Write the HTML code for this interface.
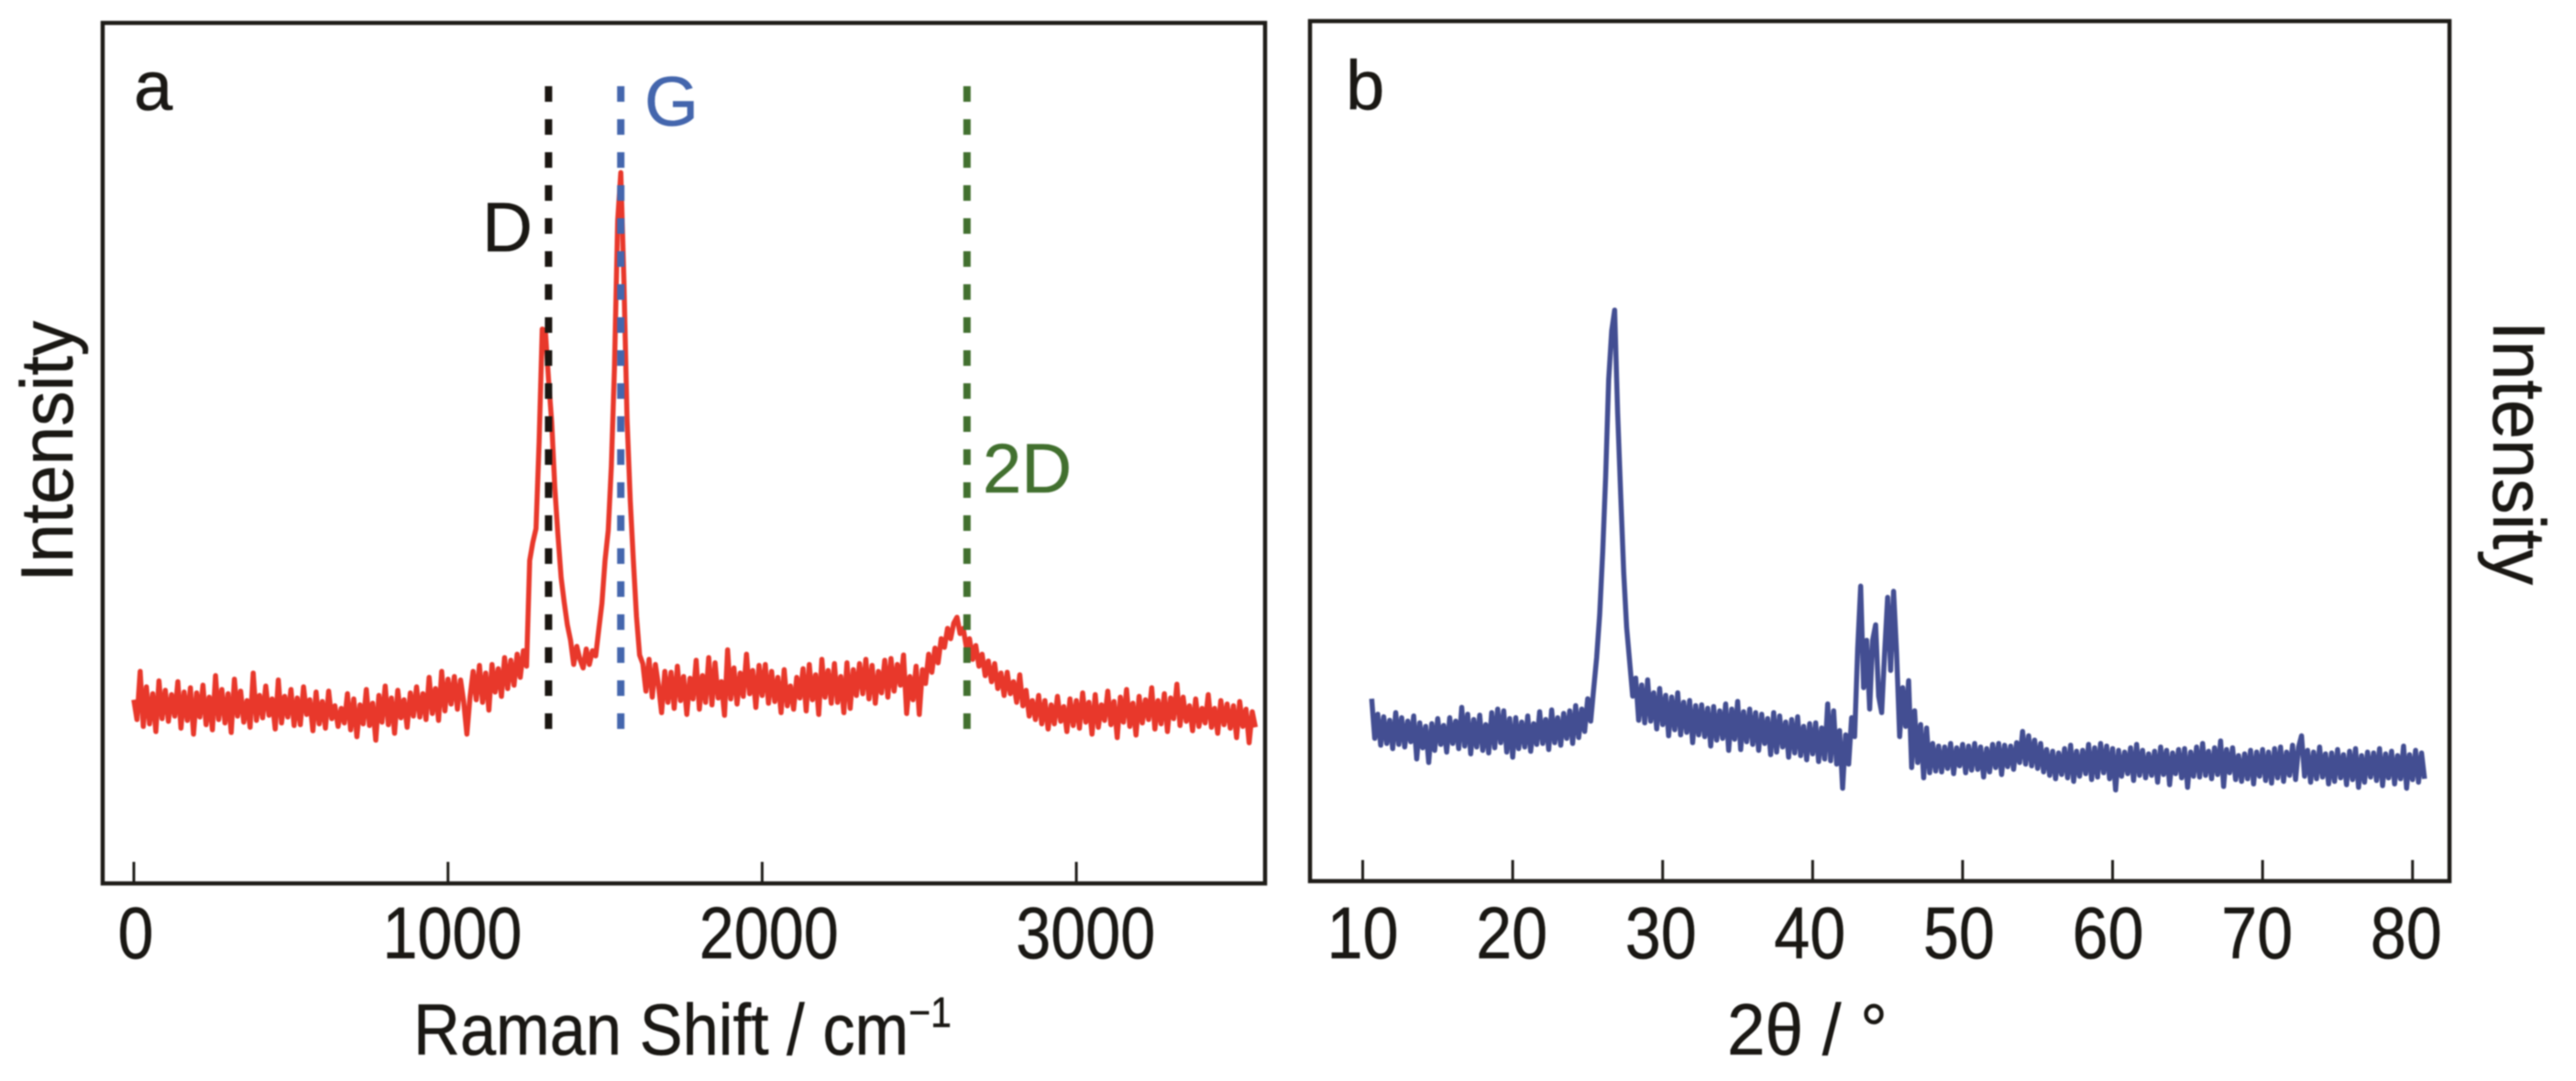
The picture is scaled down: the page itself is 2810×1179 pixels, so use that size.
<!DOCTYPE html>
<html lang="en">
<head>
<meta charset="utf-8">
<title>Raman and XRD spectra</title>
<style>
html,body{margin:0;padding:0;background:#fff;}
svg{display:block;filter:blur(0.7px);}
text{font-family:"Liberation Sans",sans-serif;fill:#1a1814;stroke:#1a1814;stroke-width:.5px;}
</style>
</head>
<body>
<svg id="figure" xmlns="http://www.w3.org/2000/svg" width="2810" height="1179" viewBox="0 0 2810 1179">
  <rect x="0" y="0" width="2810" height="1179" fill="#fff"/>
  <g id="panel-a">
    <g id="a-refs"></g>
    <g id="a-ticks"></g>
    <rect x="112" y="25" width="1268" height="938.5" fill="none" stroke="#1e1c18" stroke-width="4.5"/>
    <text x="146" y="120" font-size="76">a</text>
    <text x="526" y="274" font-size="76">D</text>
    <text x="703" y="137" font-size="76" style="fill:#4466ad;stroke:#4466ad">G</text>
    <text x="1072" y="537" font-size="76" style="fill:#42702f;stroke:#42702f">2D</text>
    <text transform="translate(79,635) rotate(-90)" font-size="81" textLength="285" lengthAdjust="spacingAndGlyphs">Intensity</text>
    <text x="451" y="1150" font-size="79" textLength="587" lengthAdjust="spacingAndGlyphs">Raman Shift / cm<tspan dy="-30" font-size="46">−1</tspan></text>
  </g>
  <g id="panel-b">
    <g id="b-ticks"></g>
    <rect x="1429" y="23" width="1243" height="938" fill="none" stroke="#1e1c18" stroke-width="4.5"/>
    <text x="1468" y="119" font-size="76">b</text>
    <text transform="translate(2720,350) rotate(90)" font-size="81" textLength="288" lengthAdjust="spacingAndGlyphs">Intensity</text>
    <text x="1884" y="1150" font-size="79" textLength="175" lengthAdjust="spacingAndGlyphs">2θ / °</text>
  </g>
</svg>
<script>
const ramanTicks = [0, 1000, 2000, 3000];
const xrdTicks = [10, 20, 30, 40, 50, 60, 70, 80];
const ramanStart = 0;
const ramanStep = 10;
const xrdStart = 10.6;
const xrdStep = 0.2;
const bandNames = ['D', 'G', '2D'];
const bandShifts = [1320, 1550, 2652];
const bandColors = ['#1a1611', '#4466ad', '#42702f'];
const ramanIntensity = [
21.3,19.0,24.6,18.2,22.8,18.5,22.0,17.6,23.5,19.1,
22.4,18.8,21.9,19.4,23.4,18.0,22.2,18.9,22.7,17.3,
22.1,19.3,23.0,18.4,21.6,17.8,24.1,19.0,22.5,18.6,
22.0,17.5,23.7,19.4,22.3,18.7,21.2,18.1,24.4,18.9,
21.8,19.2,22.9,19.5,21.4,17.9,23.6,18.6,21.7,19.3,
22.5,18.3,21.5,18.4,22.8,19.6,21.3,17.7,22.2,18.5,
21.1,18.0,22.3,19.1,20.6,18.2,20.3,18.6,22.0,17.8,
21.4,17.0,20.7,18.5,22.5,18.3,20.9,16.6,21.8,18.7,
22.9,18.4,21.5,17.4,22.4,19.2,21.3,18.1,22.1,19.4,
22.8,19.3,22.0,19.0,23.9,19.7,22.6,18.9,24.6,20.0,
23.7,20.8,24.0,20.2,23.6,21.1,17.3,21.6,24.6,21.3,
25.3,21.0,24.4,20.1,25.4,22.2,24.9,21.7,26.2,22.6,
25.9,23.0,26.6,23.9,27.0,25.2,37.5,39.6,41.2,51.3,
64.4,64.2,58.5,53.6,46.0,40.5,35.5,32.6,30.0,28.2,
25.4,27.5,26.0,25.0,27.2,25.4,27.0,26.4,29.5,32.5,
37.5,41.0,48.5,60.0,77.0,82.6,70.0,54.0,44.5,37.5,
31.0,26.5,25.5,22.3,26.0,21.6,25.4,23.0,19.8,24.6,
21.0,24.5,20.3,25.2,21.2,24.0,19.6,23.8,21.4,25.9,
20.2,24.1,21.0,26.2,20.7,25.6,21.5,23.4,19.5,27.1,
21.4,25.0,20.8,24.4,21.7,26.6,22.0,24.7,20.4,25.3,
21.8,25.4,20.9,24.6,21.1,23.9,19.8,24.8,20.6,22.9,
20.2,23.9,21.5,24.9,20.0,25.4,21.3,24.2,19.6,26.0,
21.6,24.7,20.9,25.5,21.0,24.0,19.8,25.6,20.3,24.8,
21.8,25.5,22.0,26.0,21.4,25.3,20.9,24.6,22.1,25.9,
21.6,26.1,22.3,25.4,23.0,26.5,19.7,24.0,21.3,25.2,
19.6,24.8,23.2,26.6,24.5,27.3,25.6,28.4,27.4,29.6,
28.4,30.2,30.9,29.0,29.6,27.4,28.4,26.0,27.6,25.2,
26.6,24.1,25.8,23.4,25.5,22.6,24.4,21.8,24.5,22.0,
23.4,21.0,24.2,20.6,22.4,19.4,21.2,19.0,21.8,18.5,
21.2,17.9,20.7,18.5,21.7,18.8,20.5,17.6,21.4,18.3,
21.2,18.0,22.1,18.7,21.0,17.3,21.9,18.1,20.7,18.9,
22.3,18.4,21.1,16.9,21.6,18.7,22.5,18.2,20.9,17.2,
21.7,18.6,21.3,19.0,22.7,17.9,21.2,18.5,22.0,17.6,
21.5,19.1,23.1,18.3,21.6,18.8,20.6,17.7,21.4,18.2,
20.3,18.6,21.9,18.1,20.3,17.4,21.2,18.4,20.8,18.0,
20.6,16.9,21.1,18.2,20.2,16.3,19.9,18.1
];
const xrdIntensity = [
21.2,16.6,19.4,15.8,19.1,16.0,18.7,15.4,19.6,15.9,
19.0,15.6,18.6,16.2,19.2,14.2,18.4,15.5,18.0,13.8,
18.3,15.2,18.9,15.9,18.1,15.0,19.0,16.0,18.6,15.4,
20.2,15.7,19.4,14.8,18.8,15.6,19.3,15.2,18.2,14.9,
19.6,15.5,20.0,16.1,19.8,15.0,18.9,14.4,19.0,15.4,
18.5,15.6,19.2,15.1,18.3,15.9,19.7,16.0,18.8,15.3,
19.9,16.1,19.0,15.8,19.5,16.6,19.8,16.0,20.4,16.7,
20.0,17.4,21.2,18.6,22.3,26.0,31.0,38.3,47.0,58.3,
64.0,66.4,54.4,45.0,35.9,29.5,25.5,21.5,23.6,18.7,
22.8,18.4,23.4,18.6,21.9,17.7,22.4,18.2,21.6,16.9,
21.4,17.6,21.9,17.0,20.8,17.3,21.0,16.1,20.4,17.0,
20.5,16.8,20.1,15.7,20.3,16.4,19.8,16.6,20.6,15.2,
20.0,16.5,20.9,15.3,19.7,16.2,20.0,15.9,19.6,15.2,
19.4,16.0,18.9,14.7,19.6,15.0,19.2,15.6,18.5,14.4,
18.8,14.9,19.1,14.6,18.0,14.1,18.3,14.8,18.4,13.9,
17.8,14.2,20.6,14.0,19.8,13.6,17.5,10.8,17.0,13.6,
19.0,16.8,27.0,34.3,22.5,28.0,20.0,28.0,29.8,21.5,
19.6,26.5,33.0,24.5,33.7,26.5,16.8,22.5,18.0,23.3,
13.2,19.8,13.8,18.2,12.0,17.8,12.6,16.0,12.8,15.7,
12.7,15.6,13.1,16.0,12.5,15.5,13.4,15.9,12.6,15.7,
12.9,16.0,13.0,15.6,12.1,15.4,12.7,15.9,13.2,16.0,
12.4,15.8,13.3,15.7,13.0,16.1,13.8,17.4,13.6,16.9,
13.4,16.4,13.1,16.0,12.7,15.3,12.3,15.1,11.9,14.9,
12.4,15.4,12.0,15.8,11.6,15.1,12.2,15.2,12.5,15.9,
11.8,15.5,12.1,16.0,12.6,15.7,11.9,15.4,10.6,15.2,
12.2,15.0,12.5,15.5,11.7,15.9,12.3,15.2,12.0,14.8,
12.3,15.1,11.5,15.6,12.4,15.2,11.2,14.9,12.5,15.3,
12.0,15.4,10.9,15.0,12.2,15.6,12.1,16.0,12.3,15.1,
11.9,15.5,12.4,16.3,11.0,15.3,12.6,15.5,11.8,14.6,
11.6,14.8,11.9,15.2,11.3,15.0,12.2,15.3,11.7,15.0,
11.4,15.4,12.0,15.6,11.6,15.0,12.3,15.8,11.8,15.6,
16.9,12.2,15.2,11.5,15.0,11.9,15.6,12.1,14.8,11.3,
14.9,11.6,15.3,12.0,14.7,11.2,15.1,11.8,15.4,10.9,
14.6,11.5,15.0,12.1,14.9,11.7,15.4,11.1,14.8,12.0,
15.1,11.3,14.6,11.9,15.7,10.8,14.7,11.8,15.2,11.5,
14.9,11.9
];

const NS = 'http://www.w3.org/2000/svg';
function xRaman(v) { return 146 + v * 0.3427; }
function yRaman(v) { return 963 - v * 9.38; }
function xXrd(v) { return 1486.5 + (v - 10) * 16.36; }
function yXrd(v) { return 961 - v * 9.38; }

function drawTrace(parent, values, start, step, xf, yf, color, width) {
  const pts = values.map(function (v, i) {
    return xf(start + i * step).toFixed(1) + ',' + yf(v).toFixed(1);
  }).join(' ');
  const line = document.createElementNS(NS, 'polyline');
  line.setAttribute('points', pts);
  line.setAttribute('fill', 'none');
  line.setAttribute('stroke', color);
  line.setAttribute('stroke-width', width);
  line.setAttribute('stroke-linejoin', 'round');
  parent.appendChild(line);
  return line;
}

function drawTick(parent, x, bottom) {
  const t = document.createElementNS(NS, 'line');
  t.setAttribute('x1', x);
  t.setAttribute('x2', x);
  t.setAttribute('y1', bottom - 23);
  t.setAttribute('y2', bottom);
  t.setAttribute('stroke', '#1e1c18');
  t.setAttribute('stroke-width', 3);
  parent.appendChild(t);
  return t;
}

function drawTickLabel(parent, str, x, y, fit) {
  const t = document.createElementNS(NS, 'text');
  t.setAttribute('x', x);
  t.setAttribute('y', y);
  t.setAttribute('font-size', 80);
  t.setAttribute('text-anchor', 'middle');
  t.setAttribute('textLength', fit);
  t.setAttribute('lengthAdjust', 'spacingAndGlyphs');
  t.textContent = str;
  parent.appendChild(t);
  return t;
}

const panelA = document.getElementById('panel-a');
const panelB = document.getElementById('panel-b');
const aTicks = document.getElementById('a-ticks');
const bTicks = document.getElementById('b-ticks');
const aRefs = document.getElementById('a-refs');

const ramanLine = drawTrace(panelA, ramanIntensity, ramanStart, ramanStep, xRaman, yRaman, '#e8382b', 5.5);


panelA.insertBefore(ramanLine, aRefs);

bandShifts.forEach(function (shift, i) {
  const d = document.createElementNS(NS, 'line');
  d.setAttribute('x1', xRaman(shift));
  d.setAttribute('x2', xRaman(shift));
  d.setAttribute('y1', 94);
  d.setAttribute('y2', 803);
  d.setAttribute('stroke', bandColors[i]);
  d.setAttribute('stroke-width', 8);
  d.setAttribute('stroke-dasharray', '17 19');
  
  
  aRefs.appendChild(d);
});

ramanTicks.forEach(function (v) {
  const tick = drawTick(aTicks, xRaman(v), 963);
  
  
  const s = String(v);
  const lab = drawTickLabel(aTicks, s, xRaman(v) + 2 + v * 0.0027, 1045, s.length === 1 ? 39 : 152);
  
  
});

const xrdLine = drawTrace(panelB, xrdIntensity, xrdStart, xrdStep, xXrd, yXrd, '#434e92', 5.5);



xrdTicks.forEach(function (v) {
  const tick = drawTick(bTicks, xXrd(v), 961);
  
  
  const lab = drawTickLabel(bTicks, String(v), xXrd(v) - (v - 10) * 0.1, 1045, 78);
  
  
});
</script>
</body>
</html>
